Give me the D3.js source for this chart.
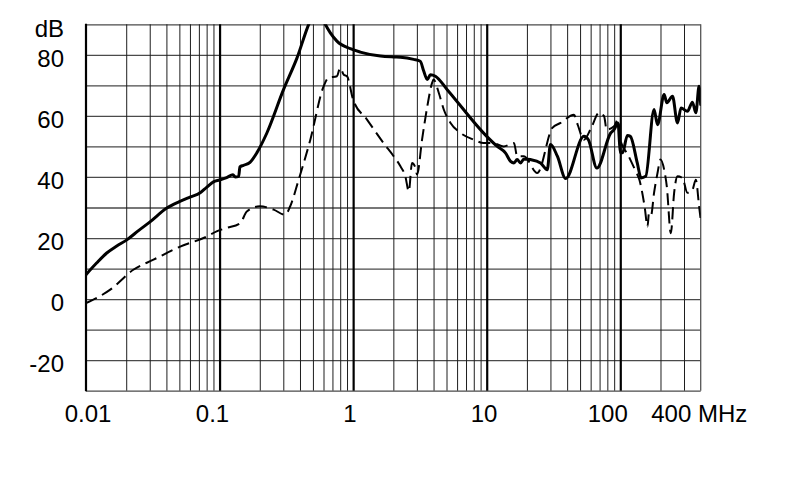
<!DOCTYPE html>
<html>
<head>
<meta charset="utf-8">
<script src="https://cdn.jsdelivr.net/npm/d3@7"></script>
<style>
  html, body { margin: 0; padding: 0; background: #fff; }
  svg { display: block; }
  text { font-family: "Liberation Sans", Arial, sans-serif; fill: #000; }
</style>
</head>
<body>
<svg id="chart" width="790" height="482"></svg>
<script>
// ---- data ----
const solidFreq = [0.01, 0.012, 0.0143, 0.017, 0.0202, 0.025, 0.03, 0.0403, 0.05, 0.06, 0.0716, 0.08, 0.09, 0.1, 0.113, 0.126, 0.131, 0.139, 0.142, 0.151, 0.169, 0.19, 0.226, 0.301, 0.38, 0.464, 0.54, 0.619, 0.675, 0.756, 0.953, 1.13, 1.6, 2.01, 2.26, 2.84, 3.18, 3.38, 3.59, 3.79, 4.13, 5.06, 10, 12, 13.8, 15.1, 16, 16.9, 17.9, 19, 21.3, 25.3, 28.4, 30, 33.8, 39, 53.4, 57.7, 66.8, 84.8, 89.8, 96.2, 100, 104, 113, 119, 134, 143, 155, 179, 190, 213, 223, 246, 268, 285, 318, 347, 368, 389, 400];
const solidDb = [8, 11.8, 15.1, 17.4, 19.4, 22.6, 25.2, 29.8, 31.9, 33.4, 34.8, 36.6, 38.4, 39, 39.8, 40.7, 40, 40.2, 43.3, 43.8, 44.8, 47.9, 54.4, 68.6, 79, 89.9, 96, 90, 87.2, 84.5, 82, 80.9, 79.6, 79.3, 79.2, 78.5, 77.9, 74.6, 71.9, 73.5, 73, 68.6, 53.3, 50, 47.9, 45.1, 44.6, 45.7, 44.6, 45.9, 45.7, 44.6, 42.4, 50.6, 46.8, 39.5, 53.3, 52.2, 42.9, 54.4, 55.5, 57.7, 48, 47.9, 53.6, 53.3, 44.6, 39.7, 40.2, 62.1, 57.1, 67, 64.3, 66.4, 57.7, 62.6, 61.5, 64.5, 61, 69.7, 63.7];

const dashFreq = [0.01, 0.0151, 0.0226, 0.032, 0.0507, 0.0804, 0.095, 0.113, 0.143, 0.16, 0.2, 0.254, 0.31, 0.338, 0.391, 0.478, 0.601, 0.655, 0.756, 0.8, 0.85, 0.9, 1.0, 1.27, 1.69, 2.01, 2.26, 2.46, 2.61, 2.76, 2.9, 3.01, 3.28, 3.59, 3.9, 4.0, 4.38, 4.77, 5.36, 6.37, 8.0, 9.5, 11.1, 13.4, 16, 16.9, 19, 23.9, 31, 35.7, 45, 48, 53.4, 60.6, 69.4, 75.6, 79.1, 89.8, 96, 100, 115, 130, 139, 152, 160, 164, 170, 179, 190, 200, 213, 223, 239, 253, 268, 292, 318, 347, 368, 389, 400];
const dashDb = [-1.3, 3, 9.6, 12.9, 17.2, 20.5, 22.2, 23.3, 24.9, 28.7, 30.4, 29.3, 27.6, 30.4, 39.1, 52.2, 69.7, 72.5, 73, 75.7, 73.5, 73, 65.3, 58.8, 51.1, 46.8, 43.5, 40.2, 35.3, 44.6, 43.5, 40.8, 52.2, 63.1, 70.8, 71.9, 67.5, 62.1, 57.7, 54.4, 52.2, 51.1, 51.1, 50, 51.1, 46.8, 46.8, 41.3, 56.1, 57.7, 60.4, 57.1, 52.2, 56.1, 61, 59.9, 55.5, 56.6, 58.8, 52.2, 47, 42, 39.1, 30.4, 23.8, 28.2, 27.5, 34.8, 41.3, 45.7, 42.4, 36.9, 21.6, 34.8, 40.2, 39.7, 34.8, 35.8, 39.1, 30.4, 26];

const xTickValues = [0.01, 0.1, 1, 10, 100, 400];
const xTickLabels = ["0.01", "0.1", "1", "10", "100", "400 MHz"];
const yTickValues = [-20, 0, 20, 40, 60, 80];
const yTickLabels = ["-20", "0", "20", "40", "60", "80"];
const yUnit = "dB";

// ---- layout / style (not data) ----
const L = 86, R = 700.7, T = 24.3, B = 390.7;
const xNudge = [1.5, -7.6, -3.7, -3.2, -13, -2];
const fontSize = 24;

const svg = d3.select("#chart");
svg.append("rect").attr("width", 790).attr("height", 482).attr("fill", "#fff");

const x = d3.scaleLog().domain([0.01, 400]).range([L, R]);
const y = d3.scaleLinear().domain([-30, 90]).range([B, T]);

// minor / major vertical grid values
const minorV = [];
[0.01, 0.1, 1, 10, 100].forEach(d => {
  for (let m = 2; m <= 9; m++) {
    const v = +(d * m).toPrecision(3);
    if (v < 400) minorV.push(v);
  }
});
const majorV = [0.1, 1, 10, 100];
const hLines = d3.range(-30, 91, 10);

// horizontal grid
svg.append("g")
  .attr("transform", `translate(${L},0)`)
  .call(d3.axisLeft(y).tickValues(hLines).tickSize(-(R - L)).tickFormat(""))
  .call(g => g.select(".domain").remove())
  .call(g => g.selectAll("line").attr("stroke", "#4a4a4a").attr("stroke-width", 1.3));

// minor vertical grid
svg.append("g")
  .attr("transform", `translate(0,${B})`)
  .call(d3.axisBottom(x).tickValues(minorV).tickSize(-(B - T)).tickFormat(""))
  .call(g => g.select(".domain").remove())
  .call(g => g.selectAll("line").attr("stroke", "#1e1e1e").attr("stroke-width", 1));

// right border
svg.append("line").attr("x1", R).attr("x2", R).attr("y1", T).attr("y2", B)
  .attr("stroke", "#555").attr("stroke-width", 1.3);

// major vertical grid
svg.append("g")
  .attr("transform", `translate(0,${B})`)
  .call(d3.axisBottom(x).tickValues(majorV).tickSize(-(B - T)).tickFormat(""))
  .call(g => g.select(".domain").remove())
  .call(g => g.selectAll("line").attr("stroke", "#000").attr("stroke-width", 2.2));

// left axis line
svg.append("line").attr("x1", L).attr("x2", L).attr("y1", T - 0.6).attr("y2", B + 0.6)
  .attr("stroke", "#000").attr("stroke-width", 2.2);

// curves
const clip = svg.append("defs").append("clipPath").attr("id", "plotclip");
clip.append("rect").attr("x", L).attr("y", T).attr("width", R - L).attr("height", B - T);

const line = d3.line().x(d => x(d[0])).y(d => y(d[1])).curve(d3.curveMonotoneX);
const solid = solidFreq.map((f, i) => [f, solidDb[i]]);
const dashed = dashFreq.map((f, i) => [f, dashDb[i]]);

const curves = svg.append("g").attr("clip-path", "url(#plotclip)");
curves.append("path").datum(dashed).attr("d", line)
  .attr("fill", "none").attr("stroke", "#000").attr("stroke-width", 2)
  .attr("stroke-dasharray", "12,6").attr("stroke-linejoin", "round");
curves.append("path").datum(solid).attr("d", line)
  .attr("fill", "none").attr("stroke", "#000").attr("stroke-width", 3)
  .attr("stroke-linejoin", "round").attr("stroke-linecap", "round");

// x axis labels
svg.append("g")
  .attr("transform", `translate(0,${B})`)
  .call(d3.axisBottom(x).tickValues(xTickValues).tickSize(0)
    .tickFormat((d, i) => xTickLabels[i]))
  .call(g => g.select(".domain").remove())
  .call(g => g.selectAll("text")
    .attr("font-size", fontSize).attr("font-family", "Liberation Sans, Arial, sans-serif")
    .attr("fill", "#000")
    .attr("y", 31).attr("dy", 0)
    .attr("x", (d, i) => xNudge[i]));

// y axis labels
svg.append("g")
  .attr("transform", `translate(${L},0)`)
  .call(d3.axisLeft(y).tickValues(yTickValues).tickSize(0).tickPadding(22)
    .tickFormat((d, i) => yTickLabels[i]))
  .call(g => g.select(".domain").remove())
  .call(g => g.selectAll("text")
    .attr("font-size", fontSize).attr("font-family", "Liberation Sans, Arial, sans-serif")
    .attr("fill", "#000")
    .attr("dy", "0.32em").attr("y", 4));

svg.append("text").attr("x", L - 22).attr("y", 37).attr("text-anchor", "end")
  .attr("font-size", fontSize).text(yUnit);
</script>
</body>
</html>
